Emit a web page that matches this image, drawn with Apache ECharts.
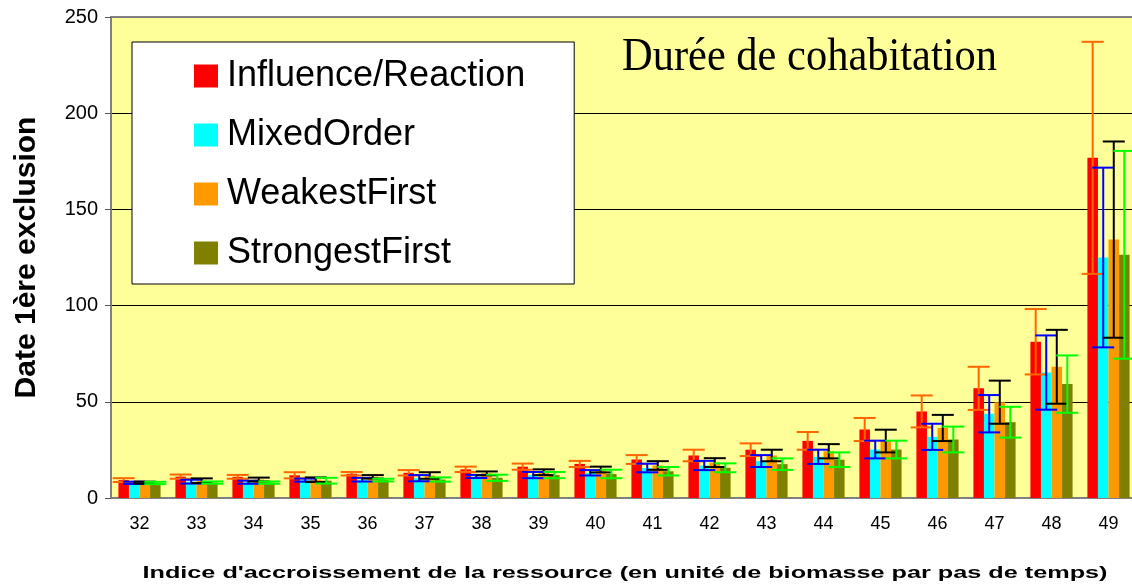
<!DOCTYPE html>
<html>
<head>
<meta charset="utf-8">
<script src="https://cdn.jsdelivr.net/npm/echarts@6/dist/echarts.min.js"></script>
<style>
html, body { margin: 0; padding: 0; background: #fff; }
#main { width: 1132px; height: 585px; }
</style>
</head>
<body>
<div id="main"></div>
<script>
var categories = ['32','33','34','35','36','37','38','39','40','41','42','43','44','45','46','47','48','49'];
var seriesNames = ['Influence/Reaction', 'MixedOrder', 'WeakestFirst', 'StrongestFirst'];

// moyennes
var irMean     = [9.3, 11.1, 11.0, 11.8, 12.6, 13.1, 14.9, 16.3, 17.7, 20.0, 22.1, 25.1, 29.7, 35.6, 45.0, 57.0, 81.2, 176.8];
var mixedMean  = [7.9, 8.5, 8.2, 9.3, 9.5, 10.3, 11.2, 11.9, 13.1, 15.6, 16.9, 19.2, 21.4, 25.2, 31.8, 43.8, 65.2, 125.0];
var weakMean   = [8.0, 9.0, 9.6, 9.5, 11.0, 11.7, 12.8, 13.4, 14.8, 16.9, 18.4, 22.1, 24.3, 29.6, 36.4, 49.8, 68.2, 134.3];
var strongMean = [7.8, 8.0, 8.0, 9.0, 9.3, 9.6, 10.5, 11.9, 12.5, 13.9, 15.7, 17.6, 19.9, 25.2, 30.4, 39.4, 59.2, 126.4];

// ecarts (barres d'erreur)
var irErr     = [1.0, 1.1, 1.0, 1.6, 0.9, 1.4, 1.4, 1.6, 1.6, 2.3, 3.0, 3.3, 4.6, 6.0, 8.3, 11.2, 17.0, 60.3];
var mixedErr  = [0.6, 1.0, 0.8, 0.8, 0.95, 1.6, 0.8, 1.6, 1.4, 2.25, 2.4, 3.1, 3.7, 4.6, 6.8, 9.7, 19.3, 46.7];
var weakErr   = [0.5, 1.2, 1.0, 1.2, 0.9, 1.7, 1.0, 1.5, 1.5, 2.25, 2.3, 3.0, 3.7, 5.9, 6.8, 11.2, 19.2, 51.0];
var strongErr = [0.6, 0.6, 0.6, 1.5, 0.7, 1.1, 1.6, 1.6, 2.2, 2.2, 2.3, 3.0, 3.8, 4.6, 6.7, 8.0, 14.9, 54.0];

var yTicks = [0, 50, 100, 150, 200, 250];

var barColors = ['#FF0000', '#00FFFF', '#FF9900', '#808000'];
var errColors = ['#FF6600', '#0000FF', '#000000', '#00FF00'];
var means = [irMean, mixedMean, weakMean, strongMean];
var errs = [irErr, mixedErr, weakErr, strongErr];
var catGap = 0.26;

var myChart = echarts.init(document.getElementById('main'));

function fitScale(font, text, target) {
    var ctx = document.createElement('canvas').getContext('2d');
    ctx.font = font;
    return target / ctx.measureText(text).width;
}

function errRender(k) {
    return function (params, api) {
        var cat = api.value(0), m = api.value(1), e = api.value(2);
        var bw = api.size([1, 0])[0] * (1 - catGap) / 4;
        var x = api.coord([cat, m])[0] + (k - 1.5) * bw;
        var yTop = api.coord([cat, m + e])[1];
        var yBot = api.coord([cat, m - e])[1];
        var hw = 11;
        var st = { stroke: errColors[k], lineWidth: 2 };
        return {
            type: 'group',
            children: [
                { type: 'line', shape: { x1: x, y1: yTop, x2: x, y2: yBot }, style: st },
                { type: 'line', shape: { x1: x - hw, y1: yTop, x2: x + hw, y2: yTop }, style: st },
                { type: 'line', shape: { x1: x - hw, y1: yBot, x2: x + hw, y2: yBot }, style: st }
            ]
        };
    };
}

var series = [];
for (var k = 0; k < 4; k++) {
    series.push({
        name: seriesNames[k],
        type: 'bar',
        barGap: '0%',
        barCategoryGap: (catGap * 100) + '%',
        itemStyle: { color: barColors[k] },
        data: means[k]
    });
}
for (var k = 0; k < 4; k++) {
    var d = [];
    for (var i = 0; i < categories.length; i++) {
        d.push([i, means[k][i], errs[k][i]]);
    }
    series.push({
        type: 'custom',
        renderItem: errRender(k),
        encode: { x: 0, y: 1 },
        z: 5,
        data: d
    });
}

var titleText = 'Durée de cohabitation';
var titleFont = '46px "Liberation Serif"';
var xNameText = "Indice d'accroissement de la ressource (en unité de biomasse par pas de temps)";
var xNameFont = 'bold 17px "Liberation Sans"';

option = {
    animation: false,
    backgroundColor: '#FFFFFF',
    grid: {
        left: 111,
        top: 17,
        width: 1026,
        height: 481,
        outerBoundsMode: 'none',
        show: true,
        backgroundColor: '#FFFF99',
        borderColor: '#808080',
        borderWidth: 2
    },
    legend: {
        orient: 'vertical',
        left: 132,
        top: 42,
        data: seriesNames,
        icon: 'rect',
        itemWidth: 24,
        itemHeight: 23,
        itemGap: 23,
        padding: [16, 49, 13, 62],
        backgroundColor: '#FFFFFF',
        borderColor: '#000000',
        borderWidth: 1,
        borderRadius: 0,
        textStyle: {
            fontFamily: 'Liberation Sans',
            fontSize: 36,
            lineHeight: 36,
            padding: [0, 0, 0, 4],
            color: '#000'
        }
    },
    xAxis: {
        type: 'category',
        data: categories,
        axisLine: { lineStyle: { color: '#808080', width: 2 } },
        axisTick: { length: 6, lineStyle: { color: '#555' } },
        axisLabel: {
            margin: 17,
            fontFamily: 'Liberation Sans',
            fontSize: 18,
            color: '#000'
        }
    },
    yAxis: {
        type: 'value',
        min: yTicks[0],
        max: yTicks[yTicks.length - 1],
        interval: yTicks[1] - yTicks[0],
        name: 'Date 1ère exclusion',
        nameLocation: 'middle',
        nameGap: 69,
        nameTextStyle: {
            fontFamily: 'Liberation Sans',
            fontSize: 30,
            fontWeight: 'bold',
            color: '#000'
        },
        axisLine: { show: true, lineStyle: { color: '#808080', width: 2 } },
        axisTick: { show: true, length: 6, lineStyle: { color: '#555' } },
        axisLabel: {
            margin: 13,
            fontFamily: 'Liberation Sans',
            fontSize: 20,
            color: '#000'
        },
        splitLine: {
            showMinLine: false,
            showMaxLine: false,
            lineStyle: { color: '#000', width: 1 }
        }
    },
    graphic: [
        {
            type: 'text',
            x: 622,
            y: 58,
            scaleX: fitScale(titleFont, titleText, 375),
            z: 10,
            style: {
                text: titleText,
                font: titleFont,
                fill: '#000',
                align: 'left',
                verticalAlign: 'middle'
            }
        },
        {
            type: 'text',
            x: 625,
            y: 573,
            scaleX: fitScale(xNameFont, xNameText, 965),
            style: {
                text: xNameText,
                font: xNameFont,
                fill: '#000',
                align: 'center',
                verticalAlign: 'middle'
            }
        }
    ],
    series: series
};

myChart.setOption(option);
</script>
</body>
</html>
